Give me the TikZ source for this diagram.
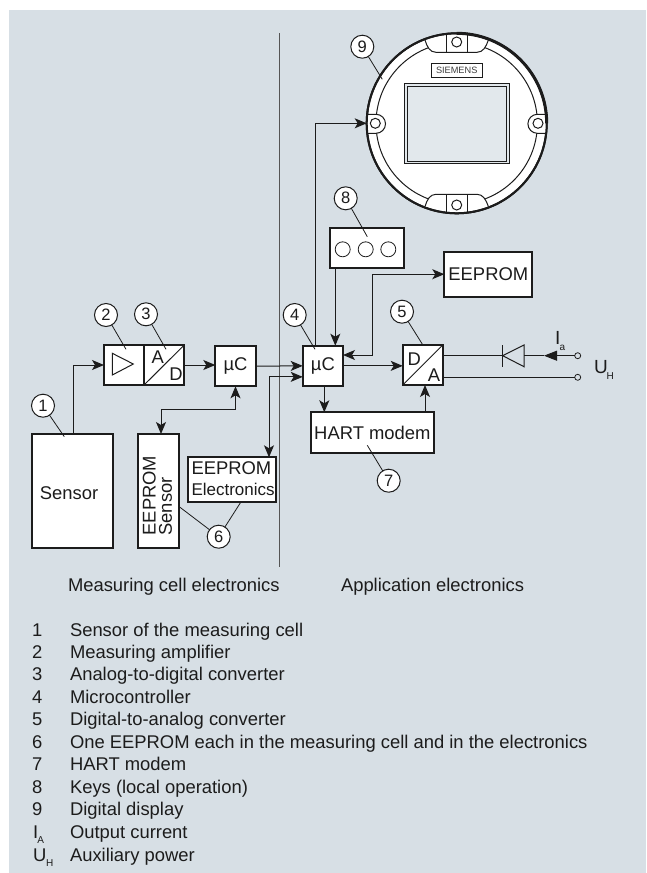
\documentclass[tikz,border=0pt]{standalone}
\usepackage{fontspec}
\setmainfont{Liberation Sans}
\usetikzlibrary{arrows.meta,calc}
\definecolor{panel}{HTML}{D7DFE5}
\definecolor{ink}{HTML}{1C1C1C}
\definecolor{screenfill}{HTML}{E2E8EC}
\newcommand{\fs}[1]{\fontsize{#1}{#1}\selectfont}
\tikzset{
  box/.style={draw=ink,fill=white,line width=1.7pt,inner sep=0pt,outer sep=0pt,anchor=north west,text=ink,font=\fs{18.4}},
  num/.style={circle,draw=ink,fill=white,line width=1pt,minimum size=23pt,inner sep=0pt,outer sep=0pt,text=ink,font=\fs{16.5}},
  lbl/.style={inner sep=0pt,outer sep=0pt,text=ink,anchor=base west,font=\fs{18.4}},
  sublbl/.style={inner sep=0pt,outer sep=0pt,text=ink,anchor=base west,font=\fs{10}},
  txt/.style={inner sep=0pt,outer sep=0pt,text=ink,font=\fs{18.4}},
  conn/.style={draw=ink,line width=1pt},
  arr/.style={conn,-{Stealth[length=12pt,width=10pt,inset=3pt]}},
  biarr/.style={conn,{Stealth[length=12pt,width=10pt,inset=3pt]}-{Stealth[length=12pt,width=10pt,inset=3pt]}},
  lead/.style={draw=ink,line width=.8pt},
  term/.style={circle,draw=ink,fill=panel,line width=.8pt,minimum size=6pt,inner sep=0pt,outer sep=0pt},
}
\begin{document}
\begin{tikzpicture}[x=1pt,y=-1pt]
\useasboundingbox (0,0) rectangle (646,873);
\fill[panel] (9,9.5) rectangle (646,873);

% divider
\coordinate (divtop) at (279.7,33);
\coordinate (divbot) at (279.7,567);
\draw[draw=ink!75,line width=1pt] (divtop) -- (divbot);

% display
\node[circle,draw=ink,fill=white,line width=2pt,minimum size=180pt,inner sep=0pt,outer sep=0pt] (display) at (456.7,123.3) {};
\draw[ink,line width=1pt] (display) circle[radius=80.7];
\draw[ink,fill=white,line width=1pt] (425,40) .. controls (427,47) and (430,52.3) .. (436,52.3) -- (477,52.3) .. controls (483,52.3) and (486,47) .. (488.4,40);
\draw[ink,fill=white,line width=1pt] (425,206.6) .. controls (427,199.6) and (430,194.3) .. (436,194.3) -- (477,194.3) .. controls (483,194.3) and (486,199.6) .. (488.4,206.6);
\draw[ink,fill=white,line width=1pt] (367.5,114.3) -- (376,114.3) arc[start angle=-90,end angle=90,radius=9.5] -- (367.5,133.3);
\draw[ink,fill=white,line width=1pt] (545.9,114.3) -- (537.4,114.3) arc[start angle=-90,end angle=-270,radius=9.5] -- (545.9,133.3);
\draw[ink,line width=1pt] (446,34) -- (446,52.3) -- (467.3,52.3) -- (467.3,34);
\draw[ink,line width=1pt] (446,212.6) -- (446,194.3) -- (467.3,194.3) -- (467.3,212.6);
\draw[ink,line width=1pt] (456.7,42) circle[radius=5];
\draw[ink,line width=1pt] (456.7,205) circle[radius=5];
\draw[ink,line width=1pt] (375.3,123.3) circle[radius=5];
\draw[ink,line width=1pt] (538,123.3) circle[radius=5];
\draw[ink,line width=2pt] (display) circle[radius=90];
\draw[ink,line width=3pt] (456.7,33.3) arc[start angle=-90,end angle=0,radius=90];
\node[draw=ink,fill=white,line width=1pt,minimum width=50.7pt,minimum height=14pt,inner sep=0pt,outer sep=0pt,text=ink!85,font=\fs{9.2}] (siemens) at (456.7,70.3) {SIEMENS};
\node[draw=ink,fill=screenfill,line width=1pt,minimum width=104.7pt,minimum height=80.7pt,inner sep=0pt,outer sep=0pt] (screen) at (456.7,123.6) {};
\draw[ink,line width=1pt] (407.5,86) rectangle (506,161.5);

% boxes
\node[box,minimum width=81.6pt,minimum height=114pt] (sensor) at (31.7,434) {};
\node[txt] (sensorText) at (69,492.7) {Sensor};
\node[box,minimum width=40pt,minimum height=40pt] (amp) at (104,345) {};
\node[box,minimum width=40.3pt,minimum height=40pt] (ad) at (144,345) {};
\node[box,minimum width=40.4pt,minimum height=40.3pt] (uca) at (215.3,346) {µC};
\node[box,minimum width=40.3pt,minimum height=40.3pt] (ucb) at (302.7,345.7) {µC};
\node[box,minimum width=41pt,minimum height=114pt] (ees) at (138.3,434) {};
\node[box,minimum width=87.4pt,minimum height=45pt] (eee) at (188.3,457.3) {};
\node[box,minimum width=122.7pt,minimum height=40.4pt] (hart) at (311,412.3) {HART modem};
\node[box,minimum width=40.3pt,minimum height=40.3pt] (da) at (402.7,344.7) {};
\node[box,minimum width=74pt,minimum height=40.6pt] (keys) at (329.7,227.7) {};
\node[box,minimum width=88pt,minimum height=45pt] (eeprom) at (444.3,251.7) {EEPROM};

% box contents
\draw[ink,line width=1pt] (112.3,353.3) -- (112.3,375) -- (133.3,364) -- cycle;
\draw[ink,line width=1pt] (ad.south west) -- (ad.north east);
\draw[ink,line width=1pt] (da.south west) -- (da.north east);
\node[txt] (adA) at (157.7,356.7) {A};
\node[txt] (adD) at (176,374.3) {D};
\node[txt] (daD) at (414.3,359) {D};
\node[txt] (daA) at (434,375) {A};
\node[txt,rotate=90,anchor=west] (eesA) at (149.3,535.5) {EEPROM};
\node[txt,rotate=90,anchor=west] (eesB) at (165.5,535.5) {Sensor};
\node[txt,anchor=west] (eeeA) at (191.5,468) {EEPROM};
\node[txt,anchor=west,font=\fs{17}] (eeeB) at (191.5,489) {Electronics};
\foreach \kx/\kn in {342.7/a,365.7/b,388.3/c}
  \node[circle,draw=ink,line width=.8pt,minimum size=15pt,inner sep=0pt] (key\kn) at (\kx,249.3) {};

% connectors
\coordinate (eeeTop) at ($(eee.north east)+(-6.7,0)$);
\coordinate (ucbL) at ($(ucb.west)+(0,11)$);
\coordinate (eesT) at ($(ees.north west)+(22.7,0)$);
\coordinate (bend) at ($(uca.south)+(0,23.4)$);
\coordinate (ucbE) at ($(ucb.north east)+(0,9.3)$);
\draw[arr] ($(sensor.north west)+(41.6,0)$) |- (amp.west);
\draw[arr] (ad.east) -- (ad.east -| uca.west);
\draw[arr] (uca.east) -- (ucb.west);
\draw[biarr] (eeeTop) |- (ucbL);
\draw[biarr] (uca.south) -- (bend) -| (eesT);
\draw[arr] ($(ucb.north west)+(12.6,0)$) |- (display.west);
\draw[arr] ($(keys.south west)+(5.6,0)$) -- ($(ucb.north west)+(32.6,0)$);
\draw[biarr] (ucbE) -- ++(29.7,0) |- (eeprom.west);
\draw[arr] (ucb.east) -- (ucb.east -| da.west);
\draw[arr] ($(ucb.south west)+(21.6,0)$) -- ($(hart.north west)+(13.3,0)$);
\draw[arr] ($(hart.north west)+(114,0)$) -- ($(da.south west)+(22.3,0)$);

% output
\node[term] (t1) at (577.7,355.7) {};
\node[term] (t2) at (577.7,377.3) {};
\coordinate (dA) at (502.7,355.7);
\coordinate (dB) at (524,355.7);
\coordinate (ia) at (544,355.7);
\draw[conn] ($(da.north east)+(0,11)$) -- (dA);
\draw[ink,line width=1pt] (502.7,345) -- (502.7,366.7);
\draw[ink,line width=1pt] (dA) -- (524,345) -- (524,366.7) -- cycle;
\draw[conn] (ia) -- (dB);
\draw[conn,-{Triangle[length=13pt,width=10pt]}] (t1) -- (ia);
\draw[conn] ($(da.north east)+(0,32.6)$) -- (t2);
\node[lbl,font=\fs{19}] (ia1) at (555,344) {I};
\node[sublbl] (ia2) at (559.5,350) {a};
\node[lbl,font=\fs{19}] (uh1) at (594,373.3) {U};
\node[sublbl] (uh2) at (606.7,379) {H};

% callouts
\node[num] (c1) at (43,405.7) {1};
\node[num] (c2) at (106,315) {2};
\node[num] (c3) at (146,314.3) {3};
\node[num] (c4) at (294.7,315) {4};
\node[num] (c5) at (402,311.7) {5};
\node[num] (c6) at (218.7,536.7) {6};
\node[num] (c7) at (388.7,480.7) {7};
\node[num] (c8) at (345.7,198.3) {8};
\node[num] (c9) at (362.3,46.7) {9};
\coordinate (l1) at (64.3,436.7);
\coordinate (l2) at (126,349.3);
\coordinate (l3) at (166,349.3);
\coordinate (l4) at (315,349.3);
\coordinate (l5) at (423.3,345.7);
\coordinate (l6a) at (178.3,506);
\coordinate (l6b) at (240.7,502.3);
\coordinate (l7) at (367.3,445.3);
\coordinate (l8) at (367.3,236.7);
\coordinate (l9) at (382.3,79.3);
\draw[lead] (c1) -- (l1);
\draw[lead] (c2) -- (l2);
\draw[lead] (c3) -- (l3);
\draw[lead] (c4) -- (l4);
\draw[lead] (c5) -- (l5);
\draw[lead] (c6) -- (l6a);
\draw[lead] (c6) -- (l6b);
\draw[lead] (c7) -- (l7);
\draw[lead] (c8) -- (l8);
\draw[lead] (c9) -- (l9);

% section labels
\node[lbl] (secA) at (68,591) {Measuring cell electronics};
\node[lbl] (secB) at (341,591) {Application electronics};

% legend
\foreach \i/\n/\t in {0/1/Sensor of the measuring cell,1/2/Measuring amplifier,2/3/Analog-to-digital converter,3/4/Microcontroller,4/5/Digital-to-analog converter,5/6/One EEPROM each in the measuring cell and in the electronics,6/7/HART modem,7/8/Keys (local operation),8/9/Digital display}{
  \node[lbl] (ln\n) at (32,636+22.45*\i) {\n};
  \node[lbl] (lt\n) at (70,636+22.45*\i) {\t};
}
\node[lbl] (lnI) at (33,838.5) {I};
\node[sublbl] (lnIa) at (37.3,843.3) {A};
\node[lbl] (ltI) at (70,838.5) {Output current};
\node[lbl] (lnU) at (33,861) {U};
\node[sublbl] (lnUa) at (46,866.7) {H};
\node[lbl] (ltU) at (70,861) {Auxiliary power};
\end{tikzpicture}
\end{document}
